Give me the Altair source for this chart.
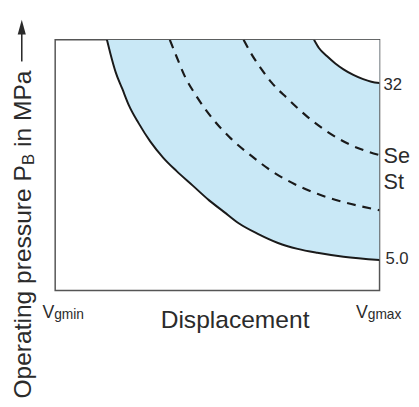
import altair as alt
import pandas as pd

# Displacement (% of Vgmax range) and operating pressure (% of plotted range)
outer_x = [15.96, 16.97, 18.69, 20.71, 22.73, 25.76, 29.29, 33.33, 37.37, 42.42, 47.47, 52.02, 56.57, 62.63, 68.69, 74.75, 80.81, 88.89, 100.0]
outer_y = [100.0, 94.77, 86.93, 80.39, 73.86, 66.67, 59.48, 52.94, 47.71, 41.83, 35.95, 31.37, 26.80, 22.48, 18.95, 16.60, 15.03, 13.46, 12.16]

arc_x = [79.8, 81.31, 83.84, 86.36, 88.89, 91.92, 94.95, 97.47, 100.0]
arc_y = [100.0, 96.73, 93.46, 90.59, 88.24, 86.01, 84.31, 83.27, 82.75]

dash1_x = [35.35, 37.37, 39.9, 43.43, 48.48, 54.04, 60.61, 66.67, 73.74, 80.81, 88.89, 100.0]
dash1_y = [100.0, 93.46, 85.62, 77.78, 68.63, 60.78, 53.59, 47.71, 42.48, 38.56, 35.29, 32.03]

dash2_x = [58.08, 60.61, 63.64, 66.67, 71.72, 77.78, 83.84, 90.91, 100.0]
dash2_y = [100.0, 94.12, 88.24, 83.01, 76.47, 69.28, 63.40, 58.17, 53.99]

# right-hand labels as far as they are visible in the reference
right_labels = ["32", "Se", "St", "5.0"]
x_title = "Displacement"
y_title_parts = ["Operating pressure P", "B", "in MPa"]

FONT = "Liberation Sans"
TXT = "#2b2b2b"
LINE = "#1a1a1a"

xs = alt.Scale(domain=[0, 100], nice=False, zero=False)
ys = alt.Scale(domain=[0, 100], nice=False, zero=False)


def frame(x, y):
    return pd.DataFrame({"d": x, "p": y, "i": list(range(len(x)))})


def enc(ch):
    return ch.encode(
        x=alt.X("d:Q", scale=xs, axis=None),
        y=alt.Y("p:Q", scale=ys, axis=None),
        order="i:Q",
    )


fill = alt.Chart(frame(outer_x, outer_y)).mark_area(
    color="#c9e8f6", opacity=1, interpolate="monotone", clip=True
).encode(
    x=alt.X("d:Q", scale=xs, axis=None),
    y=alt.Y("p:Q", scale=ys, axis=None),
    y2=alt.datum(100),
)
corner = alt.Chart(frame(arc_x, arc_y)).mark_area(
    color="white", opacity=1, interpolate="monotone", clip=True
).encode(
    x=alt.X("d:Q", scale=xs, axis=None),
    y=alt.Y("p:Q", scale=ys, axis=None),
    y2=alt.datum(100),
)

outer = enc(alt.Chart(frame(outer_x, outer_y)).mark_line(color=LINE, strokeWidth=2, interpolate="monotone", clip=True))
arc = enc(alt.Chart(frame(arc_x, arc_y)).mark_line(color=LINE, strokeWidth=2, interpolate="monotone", clip=True))
d1 = enc(alt.Chart(frame(dash1_x, dash1_y)).mark_line(color=LINE, strokeWidth=2.2, strokeDash=[9, 7], interpolate="monotone", clip=True))
d2 = enc(alt.Chart(frame(dash2_x, dash2_y)).mark_line(color=LINE, strokeWidth=2.2, strokeDash=[9, 7], interpolate="monotone", clip=True))

one = pd.DataFrame({"k": [0]})


def label(text, x, y, size, align="left", baseline="middle", angle=0):
    return alt.Chart(one).mark_text(
        text=text, font=FONT, fontSize=size, color=TXT, align=align, baseline=baseline, angle=angle
    ).encode(x=alt.value(x), y=alt.value(y))


texts = [
    label(right_labels[0], 334, 46, 17),
    label(right_labels[1], 334, 118, 22),
    label(right_labels[2], 334, 145, 22),
    label(right_labels[3], 336, 223, 17),
    label("V", -13, 283, 18, baseline="alphabetic"),
    label("gmin", -1, 284, 14, baseline="alphabetic"),
    label("V", 306, 283, 18, baseline="alphabetic"),
    label("gmax", 318, 284, 14, baseline="alphabetic"),
    label(x_title, 183, 293, 25, align="center", baseline="alphabetic"),
    label(y_title_parts[0], -25, 365, 25, baseline="alphabetic", angle=270),
    label(y_title_parts[1], -22, 127.4, 17, baseline="alphabetic", angle=270),
    label(y_title_parts[2], -25, 109, 25, baseline="alphabetic", angle=270),
]

arrow_line = alt.Chart(one).mark_rule(color=TXT, strokeWidth=1.6).encode(
    x=alt.value(-34), y=alt.value(-7), y2=alt.value(22)
)
arrow_head = alt.Chart(one).mark_point(
    shape="M0,-1L0.55,1L-0.55,1Z", filled=True, color=TXT, opacity=1, size=225
).encode(x=alt.value(-34), y=alt.value(-13))

chart = alt.layer(fill, corner, outer, arc, d1, d2, arrow_line, arrow_head, *texts).properties(
    width=330,
    height=255,
    padding={"left": 48, "top": 29, "right": 32, "bottom": 106},
    autosize=alt.AutoSizeParams(type="none"),
    background="white",
).configure_view(stroke="#555555", strokeWidth=1.5)

chart.save("out.html", embed_options={"renderer": "svg", "actions": False})
